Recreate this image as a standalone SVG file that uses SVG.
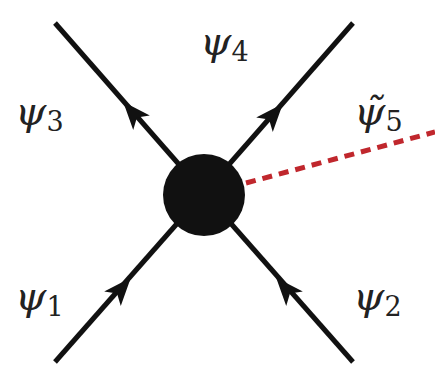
<svg xmlns="http://www.w3.org/2000/svg" width="435" height="374" viewBox="0 0 435 374">
<style>
.l{stroke:#111;stroke-width:5;fill:none;stroke-linecap:butt}
.lab{font-family:"DejaVu Serif","Liberation Serif",serif;font-size:40px;fill:#222}
.psi{font-style:italic}
.sub{font-size:27px;font-style:normal}
</style>
<defs>
<path id="ah" d="M15,0 L-13,-11 L-6,0 L-13,11 Z" fill="#111"/>
</defs>
<rect width="435" height="374" fill="#fff"/>
<g id="connectors">
<line class="l" x1="55" y1="23" x2="204" y2="193"/>
<line class="l" x1="353" y1="23" x2="204" y2="193"/>
<line class="l" x1="55" y1="362" x2="204" y2="193"/>
<line class="l" x1="353" y1="362" x2="204" y2="193"/>
<line x1="246" y1="183" x2="435" y2="132" stroke="#c0272d" stroke-width="5" stroke-dasharray="10,7"/>
<use href="#ah" transform="translate(133,113) rotate(-131)"/>
<use href="#ah" transform="translate(273,115) rotate(-49)"/>
<use href="#ah" transform="translate(121,289) rotate(-49)"/>
<use href="#ah" transform="translate(286,289) rotate(-131)"/>
</g>
<g id="vertex"><circle cx="204" cy="195" r="41" fill="#111"/></g>
<g id="psi3"><text class="lab" x="15" y="125"><tspan class="psi">ψ</tspan><tspan class="sub" dy="6">3</tspan></text></g>
<g id="psi4"><text class="lab" x="200" y="55"><tspan class="psi">ψ</tspan><tspan class="sub" dy="6">4</tspan></text></g>
<g id="psi5"><text class="lab" x="354" y="125"><tspan class="psi">ψ̃</tspan><tspan class="sub" dy="6">5</tspan></text></g>
<g id="psi1"><text class="lab" x="15" y="310"><tspan class="psi">ψ</tspan><tspan class="sub" dy="6">1</tspan></text></g>
<g id="psi2"><text class="lab" x="353" y="310"><tspan class="psi">ψ</tspan><tspan class="sub" dy="6">2</tspan></text></g>
</svg>
